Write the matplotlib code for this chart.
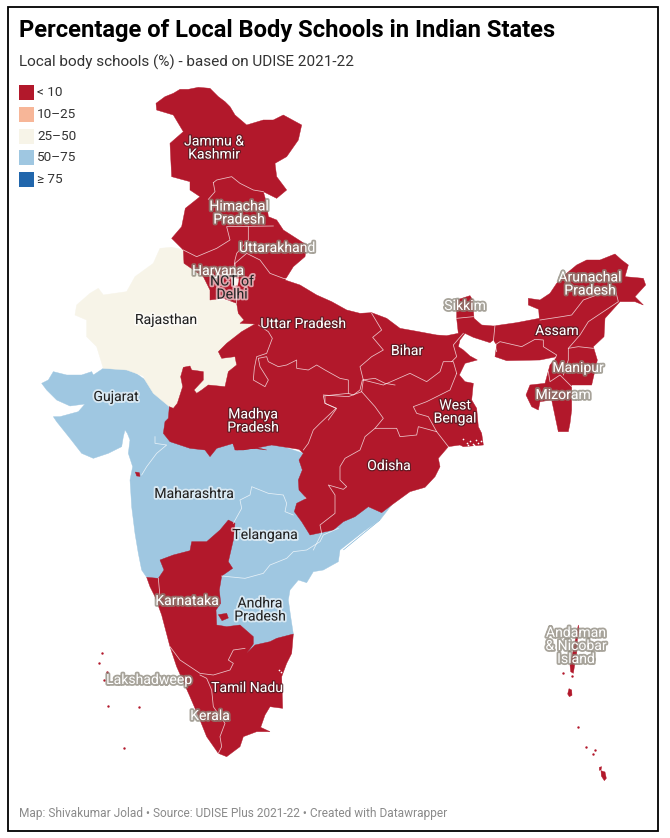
import matplotlib
matplotlib.use("Agg")
import matplotlib.pyplot as plt
import matplotlib.patheffects as pe
from matplotlib.patches import Polygon, Rectangle

plt.rcParams['font.family'] = ['Roboto', 'DejaVu Sans']

# ---- data -------------------------------------------------------------
TITLE = "Percentage of Local Body Schools in Indian States"
SUBTITLE = "Local body schools (%) - based on UDISE 2021-22"
FOOTER = "Map: Shivakumar Jolad • Source: UDISE Plus 2021-22 • Created with Datawrapper"
LEGEND_LABELS = ["< 10", "10–25", "25–50", "50–75", "≥ 75"]
LEGEND_COLORS = ["#b2182b", "#f7b698", "#f7f4e8", "#9fc7e1", "#2166ac"]

def Z(ox, oy, pts):
    """Map outline traced at 3x from a crop whose corner is (ox, oy)."""
    return [(ox + x / 3, oy + y / 3) for x, y in pts]

A, B, C, D, S, N, M = (0, 0), (40, 240), (300, 250), (90, 490), (225, 440), (485, 260), (225, 290)

red_north = (
    Z(*A, [(468,310),(495,290),(520,280),(540,268),(565,268),(595,262),(630,265),(655,290),(675,305),(690,320),(705,345),(740,375),
           (790,360),(820,360),(850,345),(905,375),(895,420),(860,470),(825,490),(830,530),(860,570),(830,595),(790,575),
           (800,610),(805,650),(830,660),(850,690),(920,735),(915,770),(880,800),(855,840)])
    + Z(*C, [(0,105),(50,135),(95,155),(140,180),(180,190),(215,188),(260,205),(300,235),(345,243),(410,255),
             (440,257),(475,250),(470,205),(470,150),(510,137),(518,150),(522,205),(545,225),(580,228),(650,218),
             (718,205),(716,178),(685,165),(685,145),(720,150),(750,130),(770,100),(800,70),(830,45),(860,30),
             (900,30),(945,12),(965,30),(985,45),(975,80),(1030,85),(1037,105),(1005,140),(1030,165),(1005,155),
             (960,155),(915,205),(912,260),(880,290),(892,330),(875,405),(815,405),(815,480),(810,520),(805,545),
             (775,545),(755,450),(720,455),(715,480),(695,470),(678,435),(690,405),(735,400),(750,345),(770,320),
             (720,330),(620,332),(585,320),(590,285),(580,270),(570,278),(545,270),(520,262),(495,250),(480,270),
             (475,290),(490,300),(510,318),(532,330),(495,340),(478,375),(495,395),(520,400),(515,450),(530,475),
             (535,530),(545,550),(550,585),(490,590),(480,585),(445,590),(415,625),(420,650),(405,680),(375,712),
             (330,725),(275,765),(245,788),(205,770),(165,800),(130,815),(100,840),(30,855)])
    + Z(*S, [(230,245),(208,215),(215,190),(245,175),(222,150),(220,120),(232,90),(222,60),(235,40),(222,28),
             (140,15),(105,22),(55,30),(30,30),(22,5)])
    + Z(*B, [(680,630),(640,625),(590,630),(580,610),(530,625),(510,650),(495,630),(450,625),(390,605),(370,580),
             (375,545),(385,535),(388,500),(400,505),(412,490),(428,440),(422,410),(430,382),(450,378),(455,390),
             (490,395),(490,420),(462,450),(470,460),(485,450),(505,435),(555,440),(565,395),(590,375),(585,350),
             (545,355),(535,335),(560,310),(605,275),(645,252),(600,250),(612,240),(595,220),(590,190),(550,175),
             (510,180),(510,150),(490,110),(432,70),(430,30)])
    + Z(*A, [(515,715),(545,680),(556,625),(600,590),(570,570),(570,545),(515,530),(510,430),(550,395),(520,345),(470,330)])
)

rajasthan = Z(*B, [(360,25),(395,22),(435,30),(440,70),(495,110),(515,150),(515,180),(550,180),(595,190),(600,220),
                   (615,240),(605,250),(650,252),(610,275),(565,310),(540,335),(550,355),(590,350),(595,375),(570,395),
                   (560,445),(505,440),(490,455),(470,465),(462,450),(490,420),(490,395),(455,390),(450,378),(430,382),
                   (422,410),(428,440),(412,490),(405,510),(388,500),(340,460),(315,420),(310,408),(260,390),(190,385),
                   (170,320),(140,290),(140,240),(105,225),(110,195),(150,160),(175,145),(190,165),(260,155),(285,110),(340,70)])

light_blue = (
    Z(*B, [(40,395),(80,405),(125,405),(155,395),(160,405),(190,385),(260,380),(400,480),(420,560),(700,610),(790,640)])
    + Z(*S, [(240,180),(260,280)])
    + Z(*C, [(100,830),(130,805),(165,790),(205,760),(245,778),(275,765),(240,810),(190,850),(130,900)])
    + Z(*D, [(870,90),(820,125),(750,180),(745,215),(700,240),(670,245),(650,278),(625,270),(600,300),(595,330),
             (602,380),(610,432),(560,460),(480,500),(400,430),(300,300),(170,262),(155,240),(145,190),(135,130),
             (125,50),(122,0)])
    + Z(*B, [(270,720),(278,680),(265,640),(270,600),(262,580),(255,570),(250,590),(245,620),(205,640),(160,655),
             (125,640),(90,595),(50,545),(40,530),(60,530),(115,515),(135,492),(90,498),(50,480),(20,450),(5,430),(25,420)])
)

red_south = Z(*D, [(170,262),(205,265),(222,240),(210,210),(250,195),(300,182),(305,155),(350,155),(390,120),(415,90),
                   (435,100),(430,150),(415,215),(428,235),(395,258),(388,300),(392,340),(378,360),(380,405),(410,410),
                   (450,405),(490,440),(490,462),(470,490),(495,465),(540,455),(560,445),(610,432),(605,490),(590,520),
                   (575,560),(578,655),(540,650),(525,675),(512,712),(540,725),(500,725),(460,740),(450,770),(410,800),
                   (385,790),(350,740),(330,690),(300,620),(260,530),(240,470),(215,375),(195,320),(180,290)])

red_blob_ap = Z(*D, [(385,374),(410,370),(415,384),(396,392)])
daman = Z(*B, [(286,696),(298,698),(300,709),(290,708)])
delhi = Z(180, 240, [(155,113),(176,116),(173,136),(158,136)])
andaman = Z(500, 610, [(235,45),(238,60),(232,90),(230,130),(224,165),(220,190),(212,185),(210,165),(220,120),(228,80)])
little_andaman = Z(500, 610, [(207,236),(215,240),(216,256),(208,260),(203,252)])
great_nicobar = Z(500, 610, [(303,482),(315,486),(319,505),(313,512),(304,498)])
car_nicobar = Z(500, 610, [(298,472),(305,470),(303,480),(298,481)])
small_isles = Z(500, 610, [(233,352),(259,411),(286,420),(278,433),(217,197),(190,188)])
lakshadweep = Z(*D, [(36,488),(26,518),(50,545),(42,570),(55,648),(148,650),(102,773)])
sundarban_gaps = Z(*C, [(490,568),(500,578),(510,572),(518,582),(527,570),(535,580),(543,572),(505,585),(522,586)])
puducherry = Z(*D, [(568,540),(572,546)])

borders = [
    Z(*A, [(640,548),(650,540),(695,530),(720,550),(760,570),(790,575)]),
    Z(*A, [(640,548),(645,575),(625,598)]),
    Z(*A, [(550,750),(590,770),(650,745),(690,720),(680,680),(820,678)]),
    Z(*A, [(745,680),(745,720),(710,760),(705,780),(700,820)]),
    Z(*B, [(585,70),(620,40),(660,60),(690,100),(730,115),(765,120)]),
    Z(*B, [(585,70),(590,190)]),
    Z(*M, [(100,105),(130,125),(142,145),(125,190),(95,200),(88,235),(85,270),(120,290),(130,270),(105,230),(100,205),
           (125,200),(130,215),(160,230),(185,225),(215,210),(215,235),(250,240),(275,225),(300,240),(345,265),(370,270),
           (370,310),(385,315),(405,300),(412,270),(450,265),(480,280),(510,285)]),
    Z(*M, [(370,310),(295,318),(300,340),(335,355),(310,390)]),
    Z(*C, [(215,190),(245,240),(218,262),(250,300),(215,320),(180,350),(190,390)]),
    Z(*C, [(190,390),(250,405),(330,370),(380,395),(420,365),(430,335),(460,335),(470,370)]),
    Z(*C, [(490,250),(460,285),(470,320),(455,335)]),
    Z(*C, [(470,370),(450,420),(380,455),(340,470),(350,490),(385,500),(410,545)]),
    Z(*C, [(185,425),(225,470),(250,505),(225,535),(290,535),(300,560),(350,555),(355,530),(410,545),(445,590)]),
    Z(*C, [(70,435),(145,440),(185,425),(190,390)]),
    Z(*C, [(75,440),(75,460),(108,475),(60,520),(40,540),(25,580),(10,600)]),
    Z(*C, [(225,535),(195,560),(180,600),(135,625),(120,650),(120,690),(140,710),(130,718),(85,705),(105,735),(105,790),(60,825),(65,850),(40,900)]),
    Z(*S, [(25,250),(50,205),(45,180),(75,165),(80,140),(130,160),(175,165),(185,190),(180,215),(205,225)]),
    Z(*D, [(395,258),(465,265),(520,250),(540,225),(590,205),(610,185),(650,180),(690,155),(700,135),(745,115)]),
    Z(*B, [(345,590),(345,610),(380,615),(350,640),(320,680),(305,705)]),
    Z(*D, [(205,265),(210,320)]),
    Z(*D, [(240,470),(270,510),(330,550),(370,555),(420,540),(430,520),(415,510),(430,480),(465,475)]),
    Z(*D, [(330,555),(350,565),(365,600),(370,650),(405,700),(390,740),(395,770),(385,790)]),
    Z(*N, [(165,180),(230,170),(260,165),(295,120),(390,85),(400,125),(355,155),(310,185),(285,225),(250,265),(250,300),(235,345)]),
    Z(*N, [(30,255),(45,245),(110,260),(150,238),(175,240),(175,260),(215,285),(205,305)]),
    Z(*N, [(30,255),(35,275)]),
    Z(*N, [(250,265),(280,260),(325,265)]),
    Z(*N, [(190,335),(195,365),(225,345),(260,380)]),
    Z(*N, [(30,195),(25,245)]),
    Z(*C, [(470,205),(520,200)]),
]

labels = [
    ("Jammu &\nKashmir", 214, 148, "w"), ("Himachal\nPradesh", 239, 213, "g"), ("Uttarakhand", 277, 248, "g"),
    ("Haryana", 218, 271, "g"), ("NCT of\nDelhi", 232, 288, "k"), ("Rajasthan", 166, 320, "k"),
    ("Uttar Pradesh", 303, 324, "w"), ("Sikkim", 465, 306, "g"), ("Arunachal\nPradesh", 590, 284, "g"),
    ("Assam", 557, 331, "w"), ("Bihar", 407, 351, "w"), ("Manipur", 578, 368, "g"), ("Mizoram", 563, 395, "g"),
    ("West\nBengal", 455, 412, "w"), ("Gujarat", 116, 397, "k"), ("Madhya\nPradesh", 253, 421, "w"),
    ("Odisha", 389, 466, "w"), ("Maharashtra", 194, 494, "k"), ("Telangana", 265, 535, "k"),
    ("Karnataka", 187, 601, "g"), ("Andhra\nPradesh", 260, 610, "k"), ("Lakshadweep", 149, 680, "g"),
    ("Tamil Nadu", 247, 688, "w"), ("Kerala", 210, 716, "g"), ("Andaman\n& Nicobar\nIsland", 576, 646, "g"),
]

# ---- drawing ----------------------------------------------------------
RED, CREAM, BLUE = LEGEND_COLORS[0], LEGEND_COLORS[2], LEGEND_COLORS[3]
fig = plt.figure(figsize=(6.7, 8.38), dpi=100, facecolor="white")
ax = fig.add_axes([0, 0, 1, 1])
ax.set_xlim(0, 670)
ax.set_ylim(838, 0)
ax.axis("off")

ax.add_patch(Rectangle((8, 7), 650, 823.5, fill=False, ec="black", lw=1.3, zorder=10))

for poly, col, z in [(light_blue, BLUE, 1), (rajasthan, CREAM, 2), (red_north, RED, 3), (red_south, RED, 3),
                     (red_blob_ap, RED, 3), (daman, RED, 3), (delhi, "#fbf6f0", 5), (andaman, RED, 3),
                     (little_andaman, RED, 3), (great_nicobar, RED, 3), (car_nicobar, RED, 3)]:
    ax.add_patch(Polygon(poly, closed=True, fc=col, ec=col, lw=0.3, zorder=z))

for line in borders:
    xs, ys = zip(*line)
    ax.plot(xs, ys, color="white", lw=0.55, alpha=0.75, zorder=4, solid_joinstyle="round")

for group in (small_isles, lakshadweep):
    xs, ys = zip(*group)
    ax.scatter(xs, ys, s=3, color=RED, lw=0, zorder=3)
for group in (sundarban_gaps, puducherry):
    xs, ys = zip(*group)
    ax.scatter(xs, ys, s=1.5, color="white", lw=0, zorder=4)

styles = {"w": ("white", "#4a1a20"), "k": ("#222222", "#ffffff"), "g": ("white", "#8a8578")}
for text, x, y, kind in labels:
    fc, hc = styles[kind]
    halo_w = 2.6 if kind != "w" else 1.8
    t = ax.text(x, y, text, ha="center", va="center", fontsize=10.1, color=fc, linespacing=0.92, zorder=8)
    a = 0.75 if kind != "k" else 0.6
    t.set_path_effects([pe.withStroke(linewidth=halo_w, foreground=hc, alpha=a)])

ax.text(19, 30, TITLE, fontsize=17.1, fontweight="bold", color="#000000", va="center", ha="left")
ax.text(19, 62, SUBTITLE, fontsize=10.95, color="#333333", va="center", ha="left")
ax.text(19, 813, FOOTER, fontsize=8.6, color="#8a8a8a", va="center", ha="left")

for i, (lab, col) in enumerate(zip(LEGEND_LABELS, LEGEND_COLORS)):
    y = 85 + i * 21.8
    ax.add_patch(Rectangle((19, y), 15, 15, fc=col, ec="none", zorder=5))
    ax.text(37, y + 7.5, lab, fontsize=9.7, color="#333333", va="center", ha="left")

fig.savefig("out.png", dpi=100)
